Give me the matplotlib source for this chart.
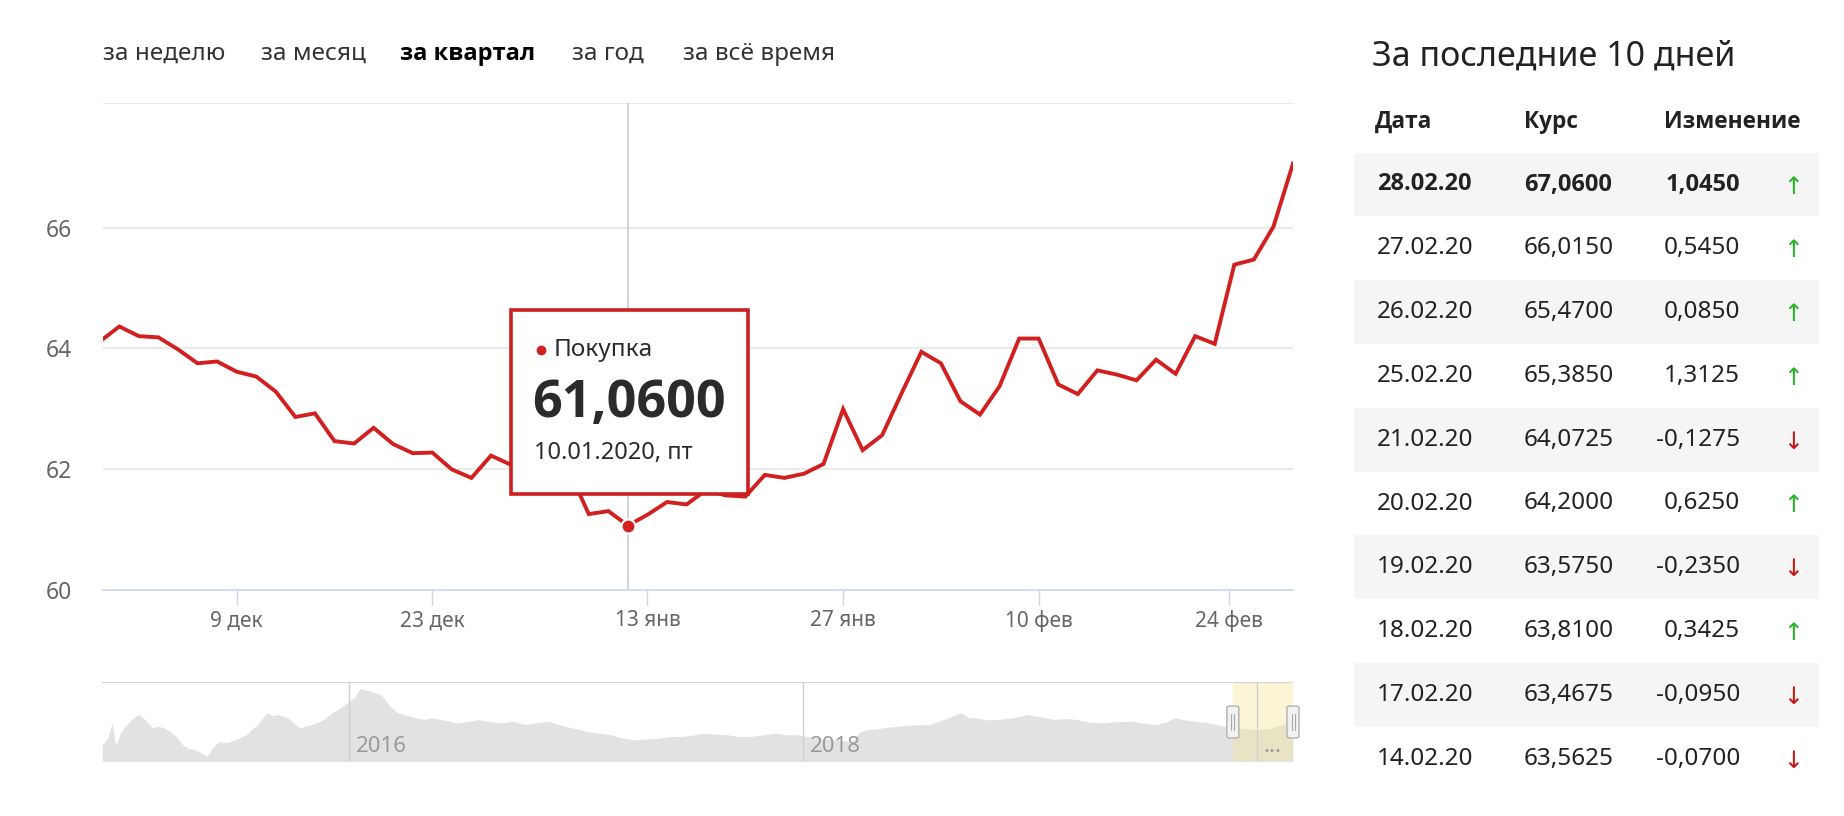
import matplotlib
matplotlib.use('Agg')
import matplotlib.pyplot as plt
from matplotlib.patches import Rectangle, FancyBboxPatch
from matplotlib.lines import Line2D

plt.rcParams['font.family'] = ['Noto Sans', 'DejaVu Sans']
BOLD = ['Open Sans', 'DejaVu Sans']

W, H = 1844, 816

# buy rate, one value per trading day, 28.11.2019 .. 28.02.2020
rates = [64.11, 64.36, 64.20, 64.18, 63.98, 63.75, 63.78, 63.61, 63.53, 63.28,
         62.86, 62.92, 62.46, 62.42, 62.68, 62.41, 62.26, 62.27, 61.99, 61.85,
         62.22, 62.07, 61.92, 61.82, 61.96, 61.25, 61.30, 61.06, 61.24, 61.45,
         61.41, 61.65, 61.56, 61.54, 61.90, 61.85, 61.92, 62.08, 62.99, 62.31,
         62.56, 63.26, 63.94, 63.75, 63.12, 62.90, 63.37, 64.16, 64.16, 63.40,
         63.24, 63.6325, 63.5625, 63.4675, 63.81, 63.575, 64.20, 64.0725, 65.385, 65.47,
         66.015, 67.06]
tick_pos = [7, 17, 28, 38, 48, 57.75]
tick_labels = ['9 дек', '23 дек', '13 янв', '27 янв', '10 фев', '24 фев']
y_ticks = [60, 62, 64, 66]

tip_index = 27
tip_date = '10.01.2020, пт'
tip_name = 'Покупка'

tabs = ['за неделю', 'за месяц', 'за квартал', 'за год', 'за всё время']
active_tab = 'за квартал'

table_dates = ['28.02.20', '27.02.20', '26.02.20', '25.02.20', '21.02.20',
               '20.02.20', '19.02.20', '18.02.20', '17.02.20', '14.02.20']
table_rates = [67.06, 66.015, 65.47, 65.385, 64.0725, 64.20, 63.575, 63.81, 63.4675, 63.5625]
table_changes = [1.045, 0.545, 0.085, 1.3125, -0.1275, 0.625, -0.235, 0.3425, -0.095, -0.07]

# navigator: whole history (year, rate)
nav_years = [2014.911, 2014.935, 2014.955, 2014.965, 2014.973, 2014.990, 2015.014, 2015.040,
             2015.072, 2015.100, 2015.134, 2015.160, 2015.185, 2015.210, 2015.236, 2015.262,
             2015.288, 2015.315, 2015.339, 2015.373, 2015.400, 2015.425, 2015.460, 2015.493,
             2015.520, 2015.545, 2015.570, 2015.596, 2015.620, 2015.640, 2015.660, 2015.682,
             2015.710, 2015.733, 2015.760, 2015.784, 2015.810, 2015.836, 2015.860, 2015.887,
             2015.910, 2015.938, 2015.973, 2016.000, 2016.024, 2016.048, 2016.070, 2016.092,
             2016.120, 2016.144, 2016.178, 2016.212, 2016.240, 2016.264, 2016.300, 2016.332,
             2016.365, 2016.401, 2016.435, 2016.469, 2016.520, 2016.572, 2016.620, 2016.675,
             2016.720, 2016.777, 2016.830, 2016.880, 2016.949, 2017.000, 2017.051, 2017.100,
             2017.154, 2017.200, 2017.257, 2017.300, 2017.360, 2017.410, 2017.462, 2017.510,
             2017.565, 2017.620, 2017.668, 2017.720, 2017.771, 2017.820, 2017.873, 2017.920,
             2017.976, 2018.027, 2018.120, 2018.216, 2018.250, 2018.284, 2018.330, 2018.380,
             2018.421, 2018.490, 2018.558, 2018.610, 2018.661, 2018.695, 2018.730, 2018.764,
             2018.810, 2018.866, 2018.930, 2018.986, 2019.050, 2019.106, 2019.160, 2019.209,
             2019.260, 2019.312, 2019.380, 2019.449, 2019.500, 2019.551, 2019.600, 2019.637,
             2019.680, 2019.723, 2019.790, 2019.860, 2019.930, 2019.997, 2020.065, 2020.134,
             2020.160]
nav_values = [54.6, 58.0, 65.7, 57.5, 54.6, 60.5, 64.0, 67.5,
              69.9, 67.3, 63.1, 64.0, 63.1, 61.5, 58.9, 55.2,
              52.9, 52.5, 51.2, 49.0, 53.5, 56.3, 55.8, 57.1,
              58.5, 59.7, 62.5, 64.8, 68.5, 70.8, 69.2, 69.9,
              69.0, 68.2, 65.0, 63.1, 64.2, 64.8, 66.0, 67.4,
              69.5, 71.6, 74.2, 76.5, 78.4, 83.0, 82.2, 81.8,
              80.5, 79.3, 74.2, 70.8, 70.0, 69.1, 68.0, 67.4,
              68.3, 67.4, 66.8, 65.7, 66.3, 67.4, 66.2, 65.7,
              66.5, 64.8, 65.8, 66.5, 64.0, 62.8, 61.4, 60.5,
              59.7, 58.2, 57.1, 57.6, 58.0, 58.8, 58.9, 59.5,
              60.6, 59.9, 59.7, 58.8, 58.9, 59.6, 60.6, 59.8,
              59.7, 58.6, 57.4, 56.3, 61.0, 62.3, 62.8, 63.6,
              64.0, 64.8, 64.8, 67.0, 69.1, 70.8, 68.5, 68.2,
              67.2, 67.4, 68.3, 69.9, 68.6, 67.4, 67.8, 67.4,
              66.0, 65.7, 66.2, 66.5, 65.6, 64.8, 65.9, 68.2,
              67.2, 66.5, 65.7, 64.0, 63.1, 62.3, 63.1, 65.7,
              67.1]
nav_year_lines = [2016, 2018, 2020]
nav_year_labels = ['2016', '2018', '...']


def px(x):
    return x / W


def py(y):
    return 1 - y / H


RED = '#d21f1f'
TXT = '#2b2b2b'
fig = plt.figure(figsize=(W / 100, H / 100), dpi=100)
fig.patch.set_facecolor('white')

# main chart
ax = fig.add_axes([px(102.7), py(589.5), (1293 - 102.7) / W, (589.5 - 102.7) / H])
ax.plot(range(len(rates)), rates, color=RED, lw=2.8, solid_joinstyle='miter', zorder=3)
ax.set_xlim(0.15, len(rates) - 1)
ax.set_ylim(60, 68.07)
ax.set_yticks(y_ticks)
ax.set_yticklabels([str(v) for v in y_ticks])
ax.set_xticks(tick_pos)
ax.set_xticklabels(tick_labels)
for s in ['top', 'left', 'right']:
    ax.spines[s].set_visible(False)
ax.spines['bottom'].set_color('#ccd6eb')
ax.spines['bottom'].set_linewidth(1.2)
for v in y_ticks[1:] + [68.07]:
    ax.axhline(v, color='#e6e6e6', lw=1.2, zorder=1)
ax.tick_params(axis='y', length=0, pad=22, labelsize=16.5, labelcolor='#666666')
ax.tick_params(axis='x', length=11, width=1, color='#ccd6eb', pad=4, labelsize=15,
               labelcolor='#666666')
ax.axvline(tip_index, color='#cccccc', lw=1.2, zorder=2)
ax.plot([tip_index], [rates[tip_index]], 'o', color=RED, ms=10, mec='white', mew=1.5, zorder=4)

# tooltip
fig.add_artist(Rectangle((px(511), py(494)), (748 - 511) / W, (494 - 310) / H,
                         transform=fig.transFigure, facecolor='white', edgecolor='#cc1f1f',
                         lw=2.6, zorder=5))
fig.add_artist(Line2D([px(540.5)], [py(350)], marker='o', ms=6, color=RED,
                      transform=fig.transFigure, zorder=6))
fig.text(px(554), py(350), tip_name, fontsize=17.5, color=TXT, va='center', zorder=6)
fig.text(px(532), py(404), f'{rates[tip_index]:.4f}'.replace('.', ','), fontsize=37.5,
         fontweight='bold', color=TXT, va='center', zorder=6, family=BOLD)
fig.text(px(534), py(453.5), tip_date, fontsize=17, color=TXT, va='center', zorder=6)

# tabs
tab_x = [103, 261, 399.5, 572, 683]
for t, x in zip(tabs, tab_x):
    if t == active_tab:
        fig.text(px(x), py(54), t, fontsize=17, va='center', fontweight='bold',
                 color='#000000', family=BOLD)
    else:
        fig.text(px(x), py(54), t, fontsize=17.5, va='center', color='#333333')

# navigator
nav = fig.add_axes([px(102), py(761), (1293 - 102) / W, (761 - 681.5) / H])
nav.fill_between(nav_years, nav_values, 40, color='#e2e2e2', lw=0)
nav.set_xlim(2014.91, 2020.16)
nav.set_ylim(46.6, 86.4)
nav.axis('off')
nav.axhline(86.4, color='#d6d6d6', lw=1.5)
for yr, lab in zip(nav_year_lines, nav_year_labels):
    nav.axvline(yr, color='#d0d0d0', lw=1)
    nav.text(yr + 0.03, 48.5, lab, fontsize=16, color='#9a9a9a', va='bottom')
sel_start, sel_end = 2019.895, 2020.16
nav.axvspan(sel_start, sel_end, color='#f5e79a', alpha=0.4, lw=0)
for hx in [sel_start, sel_end]:
    hx_px = nav.transData.transform((hx, 0))[0]
    fig.add_artist(FancyBboxPatch((px(hx_px - 6), py(738)), 12 / W, 32 / H,
                                  boxstyle='round,pad=0,rounding_size=0.002',
                                  transform=fig.transFigure, facecolor='#f2f2f2',
                                  edgecolor='#b0b0b0', lw=1, zorder=3))
    for dx in (-1.5, 1.5):
        fig.add_artist(Line2D([px(hx_px + dx)] * 2, [py(730), py(714)], color='#aaaaaa',
                              lw=0.8, transform=fig.transFigure, zorder=4))

# table on the right
fig.text(px(1372), py(57), 'За последние 10 дней', fontsize=24.5, color='#222222', va='center')
for name, x in zip(['Дата', 'Курс', 'Изменение'], [1375, 1524, 1664]):
    fig.text(px(x), py(122), name, fontsize=16.3, fontweight='bold', color='#222222',
             va='center', family=BOLD)
row_h = 63.8
for k, (d, r, c) in enumerate(zip(table_dates, table_rates, table_changes)):
    yc = 184.5 + k * row_h
    if k % 2 == 0:
        fig.add_artist(Rectangle((px(1354), py(yc + row_h / 2)), (1819 - 1354) / W, row_h / H,
                                 transform=fig.transFigure, facecolor='#f5f5f5', lw=0, zorder=0))
    if k == 0:
        kw = dict(fontsize=17, fontweight='bold', family=BOLD)
    else:
        kw = dict(fontsize=17.5)
    fig.text(px(1377), py(yc), d, color='#222222', va='center', **kw)
    fig.text(px(1524), py(yc), f'{r:.4f}'.replace('.', ','), color='#222222', va='center', **kw)
    fig.text(px(1740), py(yc), f'{c:.4f}'.replace('.', ','), color='#222222', va='center',
             ha='right', **kw)
    up = c > 0
    fig.text(px(1793), py(yc + 2), '↑' if up else '↓', fontsize=17, ha='center', va='center',
             color='#22b422' if up else '#d01010', family=['DejaVu Sans'])

fig.savefig('out.png', dpi=100, facecolor='white')
